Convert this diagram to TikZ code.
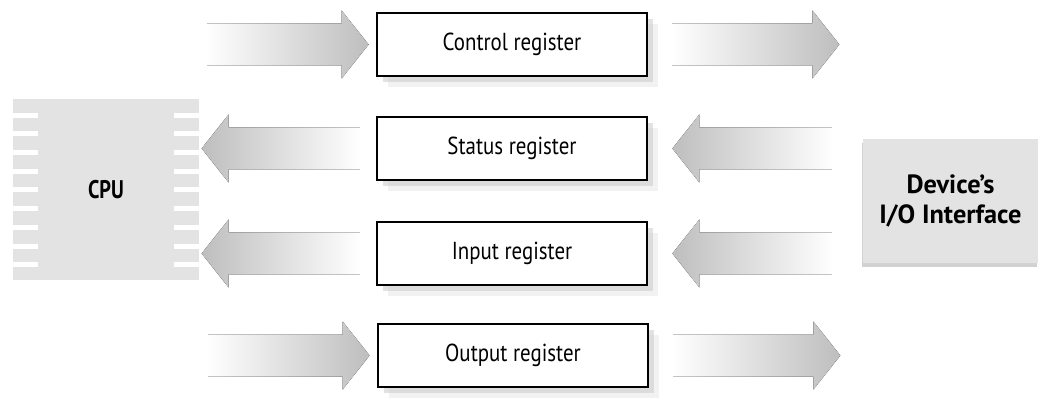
\documentclass[tikz,border=0pt]{standalone}
\usepackage{fontspec}
\setmainfont{PT Sans}
\newfontfamily\regfont{PT Sans}[FakeStretch=0.85]
\newfontfamily\cpufont{PT Sans Bold}[FakeStretch=0.8]
\usetikzlibrary{calc,shadows}
\definecolor{GrisCaja}{RGB}{227,227,227}
\definecolor{GrisFlecha}{RGB}{190,190,190}

% block arrow: style, anchor, tail offset, tip offset (px)
\newcommand{\flecha}[4]{%
  \begin{scope}[shift={(#2)}]
    \pgfmathsetmacro{\hb}{#4-27*sign(#4-#3)}
    \fill[#1] (#3,-21) -- (\hb,-21) -- (\hb,-34) -- (#4,0) -- (\hb,34) -- (\hb,21) -- (#3,21) -- cycle;
    \draw[white,line width=1.2pt] (#3,-22) -- (#3,22);
  \end{scope}}

\begin{document}
\begin{tikzpicture}[x=0.02cm,y=-0.02cm,
  reg/.style={draw=black,line width=1.6pt,fill=white,minimum width=5.4cm,minimum height=1.26cm,
    font=\regfont\fontsize{14}{16}\selectfont,
    drop shadow={shadow xshift=6pt,shadow yshift=-6pt,fill=gray!20},
    drop shadow={shadow xshift=3.5pt,shadow yshift=-3.5pt,fill=gray!45}},
  haciader/.style={left color=white,right color=GrisFlecha},
  haciaizq/.style={left color=GrisFlecha,right color=white}]
  \useasboundingbox (0,0) rectangle (1038,405);
  % CPU with pins
  \node[fill=GrisCaja,minimum width=3.72cm,minimum height=3.62cm,font=\cpufont\fontsize{14.5}{16}\selectfont] (cpu) at (106,189.5) {CPU};
  \foreach \k in {0,...,8} {
    \fill[white] ($(cpu.north west)+(0,14+\k*18.7)$) rectangle +(25,5);
    \fill[white] ($(cpu.north east)+(-25,14+\k*18.7)$) rectangle +(25,5);
  }
  % device
  \node[fill=GrisCaja,minimum width=3.5cm,minimum height=2.48cm,align=center,
    font=\bfseries\fontsize{15}{17}\selectfont,
    drop shadow={shadow xshift=-0.5pt,shadow yshift=-2pt,fill=gray!70}] (dev) at (950.5,201) {Device's\\I/O Interface};
  % registers
  \node[reg] (ctrl) at (512,44.5) {Control register};
  \node[reg] (stat) at (512,148.5) {Status register};
  \node[reg] (inp) at (512,253.5) {Input register};
  \node[reg] (outp) at (513,355.5) {Output register};
  % arrows
  \flecha{haciader}{ctrl.west}{-170}{-7}
  \flecha{haciader}{ctrl.east}{23}{191}
  \flecha{haciaizq}{stat.west}{-15}{-174}
  \flecha{haciaizq}{stat.east}{185}{24}
  \flecha{haciaizq}{inp.west}{-15}{-174}
  \flecha{haciaizq}{inp.east}{185}{24}
  \flecha{haciader}{outp.west}{-170}{-7}
  \flecha{haciader}{outp.east}{23}{191}
\end{tikzpicture}
\end{document}
